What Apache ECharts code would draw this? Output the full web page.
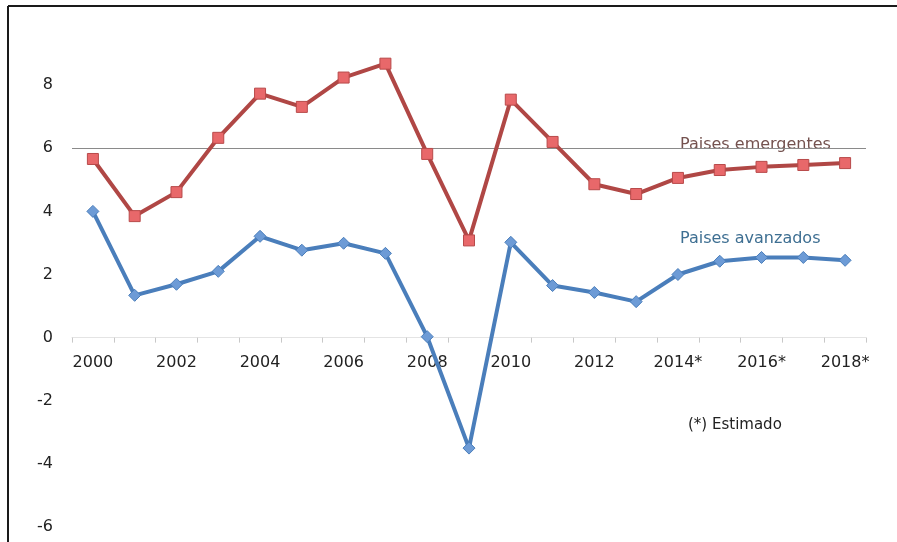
<!DOCTYPE html>
<html>
<head>
<meta charset="utf-8">
<script src="https://cdn.jsdelivr.net/npm/echarts@6/dist/echarts.min.js"></script>
<style>
  html, body { margin: 0; padding: 0; background: #fff; }
  #chart { width: 897px; height: 542px; }
</style>
</head>
<body>
<div id="chart"></div>
<script>
// Years on the x axis; projected years carry an asterisk
const years = ['2000','2001','2002','2003','2004','2005','2006','2007','2008','2009',
               '2010','2011','2012','2013','2014*','2015*','2016*','2017*','2018*'];

// Real GDP growth (%), emerging economies
const emergentes = [5.66, 3.85, 4.61, 6.33, 7.73, 7.31, 8.24, 8.68, 5.82, 3.08,
                    7.54, 6.20, 4.86, 4.55, 5.06, 5.31, 5.41, 5.47, 5.53];

// Real GDP growth (%), advanced economies
const avanzados = [4.00, 1.34, 1.69, 2.10, 3.21, 2.77, 2.99, 2.67, 0.03, -3.50,
                   3.02, 1.65, 1.43, 1.14, 2.00, 2.42, 2.54, 2.54, 2.45];

// Value-axis range and step
const yMin = -6, yMax = 10, yStep = 2;
// Single reference line drawn across the plot
const refLine = 6;

const FONT = 'DejaVu Sans';
const GRID_TOP = 22, GRID_BOTTOM = 15, HEIGHT = 542;
// Move the category axis (and its labels) up to the zero line
const plotH = HEIGHT - GRID_TOP - GRID_BOTTOM;
const zeroOffset = -plotH * (0 - yMin) / (yMax - yMin);

const chart = echarts.init(document.getElementById('chart'), null, { renderer: 'canvas' });

chart.setOption({
  animation: false,
  backgroundColor: '#ffffff',
  grid: { left: 72, right: 31, top: GRID_TOP, bottom: GRID_BOTTOM, containLabel: false, outerBoundsMode: 'none' },
  xAxis: {
    type: 'category',
    data: years,
    boundaryGap: true,
    position: 'bottom',
    offset: zeroOffset,
    axisLine: { onZero: false, lineStyle: { color: '#e4e4e4', width: 1 } },
    axisTick: { show: true, interval: 0, length: 5, lineStyle: { color: '#c8c8c8' } },
    axisLabel: {
      interval: 1,
      margin: 17,
      color: '#222',
      fontFamily: FONT,
      fontSize: 16
    },
    splitLine: { show: false }
  },
  yAxis: {
    type: 'value',
    min: yMin, max: yMax, interval: yStep,
    axisLine: { show: false },
    axisTick: { show: false },
    splitLine: { show: false },
    axisLabel: {
      margin: 19,
      color: '#222',
      fontFamily: FONT,
      fontSize: 16,
      formatter: v => (v === yMax ? '' : String(v))
    }
  },
  series: [
    {
      name: 'Paises emergentes',
      type: 'line',
      data: emergentes,
      symbol: 'rect',
      symbolSize: 11,
      lineStyle: { color: '#b04745', width: 4 },
      itemStyle: { color: '#e8686a', borderColor: '#b84a4a', borderWidth: 1 },
      z: 3,
      markLine: {
        silent: true,
        symbol: 'none',
        label: { show: false },
        lineStyle: { color: '#8a8a8a', width: 1, type: 'solid' },
        data: [{ yAxis: refLine }],
        z: 1
      }
    },
    {
      name: 'Paises avanzados',
      type: 'line',
      data: avanzados,
      symbol: 'diamond',
      symbolSize: 12,
      lineStyle: { color: '#4a7ebb', width: 4 },
      itemStyle: { color: '#6d9bd6', borderColor: '#4a7ebb', borderWidth: 1 },
      z: 3
    }
  ],
  graphic: [
    // Frame on the left and top edges
    { type: 'line', shape: { x1: 8, y1: 6, x2: 8, y2: 542 }, style: { stroke: '#1a1a1a', lineWidth: 2 }, z: 10 },
    { type: 'line', shape: { x1: 8, y1: 6, x2: 897, y2: 6 }, style: { stroke: '#1a1a1a', lineWidth: 2 }, z: 10 },
    // Series captions
    { type: 'text', left: 680, top: 137, z: 0,
      style: { text: 'Paises emergentes', fill: '#74524f', font: '16px ' + FONT } },
    { type: 'text', left: 680, top: 231, z: 0,
      style: { text: 'Paises avanzados', fill: '#3e6f92', font: '16px ' + FONT } },
    // Footnote
    { type: 'text', left: 688, top: 418, z: 0,
      style: { text: '(*) Estimado', fill: '#222', font: '15px ' + FONT } }
  ]
});
</script>
</body>
</html>
